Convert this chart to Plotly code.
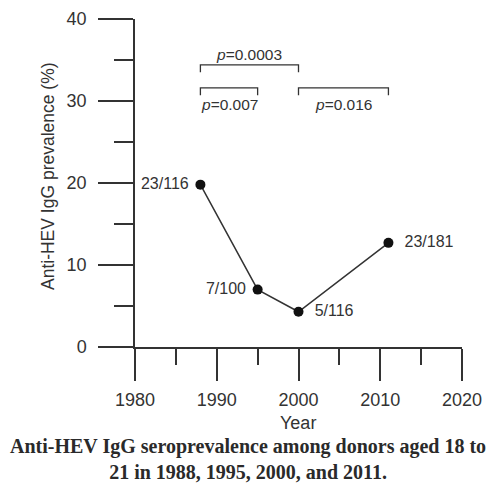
import plotly.graph_objects as go

years = [1988, 1995, 2000, 2011]
prevalence = [19.8, 7.0, 4.3, 12.7]
ratio_labels = ["23/116", "7/100", "5/116", "23/181"]
label_pos = ["middle left", "middle left", "middle right", "middle right"]

# significance brackets: (start year, end year, height, label, label above?)
brackets = [
    (1988, 2000, 34.4, "<i>p</i>=0.0003", True),
    (1988, 1995, 31.6, "<i>p</i>=0.007", False),
    (2000, 2011, 31.6, "<i>p</i>=0.016", False),
]

x_ticks = [1980, 1990, 2000, 2010, 2020]
y_ticks = [0, 10, 20, 30, 40]

INK = "#333333"
FONT = "Liberation Sans, Arial, sans-serif"

fig = go.Figure()
fig.add_trace(go.Scatter(
    x=years, y=prevalence, mode="lines+markers+text",
    line=dict(color=INK, width=1.5),
    marker=dict(color="#111111", size=10),
    text=["  " + t + " " for t in ratio_labels], textposition=label_pos,
    textfont=dict(family=FONT, size=16, color=INK),
    cliponaxis=False, showlegend=False, hoverinfo="skip",
))

for x0, x1, h, lab, above in brackets:
    fig.add_trace(go.Scatter(
        x=[x0, x0, x1, x1], y=[h - 0.9, h, h, h - 0.9], mode="lines",
        line=dict(color=INK, width=1.3), showlegend=False, hoverinfo="skip",
    ))
    fig.add_annotation(
        x=(x0 + x1) / 2, y=h, text=lab, showarrow=False,
        yshift=10 if above else -17,
        font=dict(family=FONT, size=15.5, color=INK),
    )

fig.update_xaxes(
    range=[1980, 2020], tickvals=x_ticks, ticks="outside", ticklen=32,
    tickwidth=1.5, tickcolor=INK, showline=True, linecolor=INK, linewidth=1.5,
    showgrid=False, zeroline=False, automargin=False, ticklabelstandoff=4,
    minor=dict(dtick=5, tick0=1980, ticks="outside", ticklen=16, tickwidth=1.5,
               tickcolor=INK, showgrid=False),
    tickfont=dict(family=FONT, size=18, color=INK),
)
fig.update_yaxes(
    range=[0, 40], tickvals=y_ticks, ticks="outside", ticklen=35,
    tickwidth=1.5, tickcolor=INK, showline=True, linecolor=INK, linewidth=1.5,
    showgrid=False, zeroline=False, automargin=False, ticklabelstandoff=8,
    minor=dict(dtick=5, tick0=0, ticks="outside", ticklen=19, tickwidth=1.5,
               tickcolor=INK, showgrid=False),
    tickfont=dict(family=FONT, size=18, color=INK),
)

fig.add_annotation(
    xref="paper", yref="paper", x=-(135 - 48) / 327, y=(347 - 176) / 328,
    text="Anti-HEV IgG prevalence (%)", textangle=-90, showarrow=False,
    xanchor="center", yanchor="middle",
    font=dict(family=FONT, size=17.5, color=INK),
)
fig.add_annotation(
    xref="paper", yref="paper", x=(298 - 135) / 327, y=-(423 - 347) / 328,
    text="Year", showarrow=False, xanchor="center", yanchor="middle",
    font=dict(family=FONT, size=18, color=INK),
)
fig.add_annotation(
    xref="paper", yref="paper", x=(248 - 135) / 327, y=-(459 - 347) / 328,
    text="<b>Anti-HEV IgG seroprevalence among donors aged 18 to<br>21 in 1988, 1995, 2000, and 2011.</b>",
    showarrow=False, xanchor="center", yanchor="middle",
    font=dict(family="Liberation Serif, DejaVu Serif, serif", size=20, color="#2a2a2a"),
)

fig.update_layout(
    template="none",
    width=486, height=486,
    margin=dict(l=135, r=24, t=19, b=139),
    paper_bgcolor="white", plot_bgcolor="white",
    font=dict(family=FONT, color=INK),
)

# remove the default page margin so the figure fills the 486x486 window exactly
fig.write_html(
    "out.html",
    config={"displayModeBar": False},
    post_script="document.body.style.margin='0';"
                "document.body.style.overflow='hidden';"
                "document.documentElement.style.overflow='hidden';",
)
